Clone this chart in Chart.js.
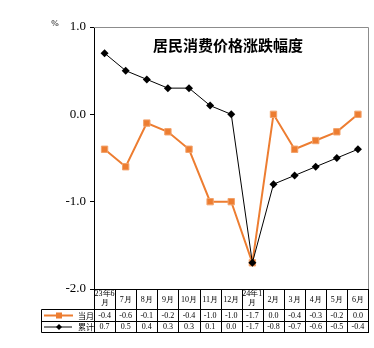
<!DOCTYPE html>
<html>
<head>
<meta charset="utf-8">
<script src="https://cdn.jsdelivr.net/npm/chart.js@4/dist/chart.umd.min.js"></script>
<style>
  html, body { margin: 0; padding: 0; background: #fff; }
  #wrap { width: 374px; height: 348px; position: relative; }
</style>
</head>
<body>
<div id="wrap"><canvas id="cpi"></canvas></div>
<script>
// month columns (first line / second line of the header cell)
const months = [['23年6', '月'], ['7月'], ['8月'], ['9月'], ['10月'], ['11月'], ['12月'], ['24年1', '月'], ['2月'], ['3月'], ['4月'], ['5月'], ['6月']];
const monthly = [-0.4, -0.6, -0.1, -0.2, -0.4, -1.0, -1.0, -1.7, 0.0, -0.4, -0.3, -0.2, 0.0];
const cumulative = [0.7, 0.5, 0.4, 0.3, 0.3, 0.1, 0.0, -1.7, -0.8, -0.7, -0.6, -0.5, -0.4];
const seriesNames = ['当月', '累计'];
const chartTitle = '居民消费价格涨跌幅度';
const unitLabel = '%';

const ORANGE = '#ED7D31';
const SERIF = '"Liberation Serif", "DejaVu Serif", serif';
const CJK = '"Noto Sans CJK SC", "Noto Sans", sans-serif';

function fmt(v){ return v.toFixed(1); }

// frame, title and the data table under the plot
const tablePlugin = {
  id: 'cpiTable',
  afterDraw(chart){
    const { ctx, chartArea: a, scales: { x } } = chart;
    const step = (a.right - a.left) / months.length;
    const legendLeft = 41.5;
    const rows = [Math.round(a.bottom) + 0.5, 309.5, 321.5, 332.5];
    ctx.save();

    // grey frame top/right
    ctx.strokeStyle = '#8c8c8c';
    ctx.lineWidth = 1;
    ctx.beginPath();
    ctx.moveTo(Math.round(a.left), Math.round(a.top) + 0.5);
    ctx.lineTo(Math.round(a.right) - 0.5, Math.round(a.top) + 0.5);
    ctx.lineTo(Math.round(a.right) - 0.5, rows[0]);
    ctx.stroke();

    // title + unit
    ctx.fillStyle = '#000';
    ctx.font = 'bold 15px ' + CJK;
    ctx.textAlign = 'center';
    ctx.textBaseline = 'middle';
    ctx.fillText(chartTitle, 228, 45);
    ctx.font = '9px ' + SERIF;
    ctx.fillText(unitLabel, 55, 24);

    // table grid
    ctx.strokeStyle = '#000';
    ctx.beginPath();
    ctx.moveTo(Math.round(a.left), rows[0]); ctx.lineTo(Math.round(a.right), rows[0]);
    for (let r = 1; r < rows.length; r++){
      ctx.moveTo(legendLeft, rows[r]); ctx.lineTo(Math.round(a.right), rows[r]);
    }
    for (let i = 0; i <= months.length; i++){
      const cx = Math.round(a.left + i * step) + (i === months.length ? -0.5 : 0.5);
      ctx.moveTo(cx, rows[0]); ctx.lineTo(cx, rows[3]);
    }
    ctx.moveTo(legendLeft, rows[1]); ctx.lineTo(legendLeft, rows[3]);
    ctx.stroke();

    // header cells
    ctx.font = '8px ' + SERIF;
    months.forEach((m, i) => {
      const cx = x.getPixelForValue(i);
      if (m.length === 2){
        ctx.fillText(m[0], cx, 294);
        ctx.fillText(m[1], cx, 303);
      } else {
        ctx.fillText(m[0], cx, 299.5);
      }
    });

    // value rows
    const mid1 = (rows[1] + rows[2]) / 2, mid2 = (rows[2] + rows[3]) / 2;
    monthly.forEach((v, i) => ctx.fillText(fmt(v), x.getPixelForValue(i), mid1));
    cumulative.forEach((v, i) => ctx.fillText(fmt(v), x.getPixelForValue(i), mid2));

    // legend keys
    ctx.strokeStyle = ORANGE; ctx.lineWidth = 2;
    ctx.beginPath(); ctx.moveTo(44, mid1); ctx.lineTo(73, mid1); ctx.stroke();
    ctx.fillStyle = ORANGE; ctx.fillRect(56, mid1 - 3, 6, 6);
    ctx.strokeStyle = '#000'; ctx.lineWidth = 1;
    ctx.beginPath(); ctx.moveTo(44, mid2); ctx.lineTo(72, mid2); ctx.stroke();
    ctx.fillStyle = '#000';
    ctx.beginPath(); ctx.moveTo(59, mid2 - 3); ctx.lineTo(62, mid2); ctx.lineTo(59, mid2 + 3); ctx.lineTo(56, mid2); ctx.closePath(); ctx.fill();
    ctx.font = '8px ' + CJK;
    ctx.fillText(seriesNames[0], 86, mid1);
    ctx.fillText(seriesNames[1], 86, mid2);
    ctx.restore();
  }
};

new Chart(document.getElementById('cpi'), {
  type: 'line',
  data: {
    labels: months.map(m => m.join('')),
    datasets: [
      { label: seriesNames[1], data: cumulative, order: 1, borderColor: '#000', borderWidth: 1,
        pointStyle: 'rectRot', pointRadius: 4, pointBackgroundColor: '#000', pointBorderColor: '#000', pointBorderWidth: 0 },
      { label: seriesNames[0], data: monthly, order: 2, borderColor: ORANGE, borderWidth: 2,
        pointStyle: 'rect', pointRadius: 4.5, pointBackgroundColor: ORANGE, pointBorderColor: '#F2A36C', pointBorderWidth: 1 }
    ]
  },
  options: {
    responsive: true,
    maintainAspectRatio: false,
    animation: false,
    layout: { padding: { left: 0, right: 2, top: 27, bottom: 59 } },
    plugins: { legend: { display: false }, tooltip: { enabled: false }, title: { display: false } },
    scales: {
      x: { type: 'category', offset: true, display: false },
      y: {
        min: -2, max: 1,
        afterFit(s){ s.width = 94; },
        ticks: { stepSize: 1, padding: 4, color: '#000', font: { family: SERIF, size: 13 }, callback: v => fmt(v) },
        grid: { drawOnChartArea: false, drawTicks: true, tickLength: 4, color: '#000' },
        border: { color: '#000', width: 1 }
      }
    }
  },
  plugins: [tablePlugin]
});
</script>
</body>
</html>
